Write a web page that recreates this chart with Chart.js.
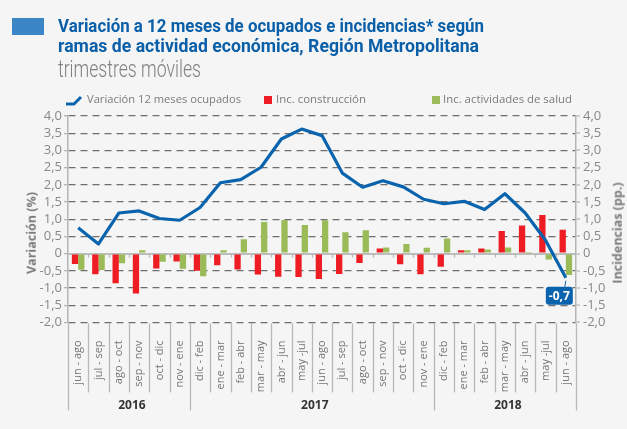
<!DOCTYPE html>
<html lang="es">
<head>
<meta charset="UTF-8">
<title>Variación a 12 meses de ocupados e incidencias</title>
<script src="https://cdn.jsdelivr.net/npm/chart.js"></script>
<style>
  html, body { margin: 0; padding: 0; }
  body { width: 627px; height: 429px; background: #f5f5f5; position: relative; overflow: hidden; font-family: 'Open Sans', sans-serif; }
  #grafico { position: absolute; left: 0; top: 0; }
  .marca { position: absolute; left: 12px; top: 18px; width: 32px; height: 17px; background: #3a86c7; }
  .titulo { position: absolute; left: 58px; font-family: Roboto, sans-serif; font-weight: 700; font-size: 19px; line-height: 1; color: #0a5fa9; white-space: nowrap; transform-origin: left top; }
  .subtitulo { position: absolute; left: 58px; top: 58px; font-family: Roboto, sans-serif; font-weight: 300; font-size: 23px; line-height: 1; color: #808080; white-space: nowrap; transform-origin: left top; }
  .leyenda { position: absolute; top: 93px; font-size: 11.5px; line-height: 1; color: #7b7b7b; white-space: nowrap; transform-origin: left top; }
  .cuadro { position: absolute; top: 96px; width: 8px; height: 8px; }
  .eje { position: absolute; font-weight: 700; font-size: 12.5px; line-height: 1; color: #7a7a7a; white-space: nowrap; transform: translate(-50%, -50%) rotate(-90deg); }
</style>
</head>
<body>
<canvas id="grafico" width="627" height="429"></canvas>

<div class="marca"></div>
<div class="titulo" style="top:16px" data-ancho="426">Variación a 12 meses de ocupados e incidencias* según</div>
<div class="titulo" style="top:36px" data-ancho="421">ramas de actividad económica, Región Metropolitana</div>
<div class="subtitulo" data-ancho="143">trimestres móviles</div>

<svg style="position:absolute;left:64px;top:94px" width="20" height="12">
  <polyline points="2,10 10,10 17,3" fill="none" stroke="#0a64ad" stroke-width="3" stroke-linejoin="round"/>
</svg>
<div class="leyenda" style="left:87px" data-ancho="154">Variación 12 meses ocupados</div>
<div class="cuadro" style="left:264px;background:#ee1d23"></div>
<div class="leyenda" style="left:276px" data-ancho="90">Inc. construcción</div>
<div class="cuadro" style="left:432px;background:#9bbb59"></div>
<div class="leyenda" style="left:443px" data-ancho="129">Inc. actividades de salud</div>

<div class="eje" style="left:32px;top:233px">Variación (%)</div>
<div class="eje" style="left:618px;top:233px">Incidencias (pp.)</div>

<script>
// trimestres moviles, de jun-ago 2016 a jun-ago 2018
const categorias = [
  'jun - ago', 'jul - sep', 'ago - oct', 'sep - nov', 'oct - dic', 'nov - ene',
  'dic - feb', 'ene - mar', 'feb - abr', 'mar - may', 'abr - jun', 'may -jul',
  'jun - ago', 'jul - sep', 'ago - oct', 'sep - nov', 'oct - dic', 'nov - ene',
  'dic - feb', 'ene - mar', 'feb - abr', 'mar - may', 'abr - jun', 'may -jul', 'jun - ago'
];
const anios = ['2016', '2017', '2018'];
const trimestresPorAnio = [6, 12, 7];

// variacion 12 meses ocupados (%)
const ocupados = [0.75, 0.28, 1.18, 1.24, 1.02, 0.97, 1.34, 2.06, 2.15, 2.51, 3.33, 3.62,
  3.43, 2.34, 1.93, 2.12, 1.94, 1.58, 1.45, 1.52, 1.28, 1.74, 1.18, 0.39, -0.7];
// incidencias (pp.)
const construccion = [-0.3, -0.6, -0.86, -1.16, -0.43, -0.23, -0.5, -0.34, -0.46, -0.61, -0.67, -0.68,
  -0.74, -0.59, -0.27, 0.15, -0.31, -0.6, -0.38, 0.1, 0.15, 0.66, 0.82, 1.12, 0.69];
const salud = [-0.47, -0.48, -0.28, 0.1, -0.24, -0.44, -0.66, 0.1, 0.42, 0.92, 0.98, 0.83,
  0.97, 0.62, 0.68, 0.18, 0.28, 0.17, 0.44, 0.1, 0.12, 0.18, 0.01, -0.17, -0.62];

const ejeMin = -2, ejeMax = 4, ejePaso = 0.5;

function formato(v) {
  return v === 0 ? '0' : v.toFixed(1).replace('.', ',');
}

// ajusta el ancho de los textos html
function ajustarTextos() {
  document.querySelectorAll('[data-ancho]').forEach(function (el) {
    el.style.transform = 'none';
    const w = el.getBoundingClientRect().width;
    el.style.transform = 'scaleX(' + (el.dataset.ancho / w) + ')';
  });
}
ajustarTextos();
if (document.fonts) document.fonts.ready.then(ajustarTextos);

// separadores del eje x, años y etiqueta del ultimo valor
const ejeInferior = {
  id: 'ejeInferior',
  afterDraw(chart) {
    const { ctx, chartArea: a, scales: { x, y1 } } = chart;
    const paso = x.getPixelForValue(1) - x.getPixelForValue(0);
    const y0 = y1.getPixelForValue(0);
    const limites = [0];
    trimestresPorAnio.forEach(function (n) { limites.push(limites[limites.length - 1] + n); });

    ctx.save();
    ctx.strokeStyle = '#b8b8b8';
    ctx.lineWidth = 1.3;
    for (let i = 0; i <= categorias.length; i++) {
      const xi = Math.round(x.getPixelForValue(i) - paso / 2) + 0.5;
      const largo = limites.includes(i) ? 88 : 70;
      ctx.beginPath();
      ctx.moveTo(xi, a.bottom + 1);
      ctx.lineTo(xi, a.bottom + largo);
      ctx.stroke();
      if (i > 0 && i < categorias.length) {
        ctx.beginPath();
        ctx.moveTo(xi, y0);
        ctx.lineTo(xi, y0 + 4);
        ctx.stroke();
      }
    }
    ctx.fillStyle = '#333';
    ctx.font = 'bold 12px "Open Sans"';
    ctx.textAlign = 'center';
    ctx.textBaseline = 'middle';
    for (let k = 0; k < anios.length; k++) {
      const xa = x.getPixelForValue(limites[k]) - paso / 2;
      const xb = x.getPixelForValue(limites[k + 1] - 1) + paso / 2;
      ctx.fillText(anios[k], (xa + xb) / 2 + 3, a.bottom + 83);
    }

    // etiqueta del ultimo dato de ocupados
    const meta = chart.getDatasetMeta(0);
    const ult = meta.data[meta.data.length - 1];
    ctx.strokeStyle = '#0a64ad';
    ctx.lineWidth = 1;
    ctx.beginPath();
    ctx.moveTo(ult.x, ult.y + 3);
    ctx.lineTo(ult.x - 1, ult.y + 9);
    ctx.stroke();
    ctx.fillStyle = '#0a64ad';
    ctx.beginPath();
    ctx.roundRect(ult.x - 20, ult.y + 9, 27, 18, 3);
    ctx.fill();
    ctx.fillStyle = '#fff';
    ctx.font = 'bold 12px "Open Sans"';
    ctx.fillText(formato(ocupados[ocupados.length - 1]), ult.x - 6.5, ult.y + 18.5);
    ctx.restore();
  }
};

const fuenteTicks = { family: 'Open Sans', size: 13 };

new Chart(document.getElementById('grafico'), {
  type: 'bar',
  data: {
    labels: categorias,
    datasets: [
      {
        type: 'line',
        label: 'Variación 12 meses ocupados',
        data: ocupados,
        yAxisID: 'y',
        borderColor: '#0a64ad',
        borderWidth: 3.2,
        pointRadius: 0,
        tension: 0,
        borderJoinStyle: 'round',
        order: 0
      },
      {
        label: 'Inc. construcción',
        data: construccion,
        yAxisID: 'y1',
        backgroundColor: '#ee1d23',
        order: 1
      },
      {
        label: 'Inc. actividades de salud',
        data: salud,
        yAxisID: 'y1',
        backgroundColor: '#9bbb59',
        order: 2
      }
    ]
  },
  options: {
    responsive: false,
    animation: false,
    devicePixelRatio: 1,
    categoryPercentage: 0.62,
    barPercentage: 1,
    layout: { padding: { top: 116, bottom: 36.6, left: 0, right: 0 } },
    plugins: { legend: { display: false }, tooltip: { enabled: false } },
    scales: {
      x: {
        offset: true,
        grid: { display: false },
        border: { display: false },
        ticks: { autoSkip: false, minRotation: 90, maxRotation: 90, padding: 10, color: '#777', font: { family: 'Open Sans', size: 11 } },
        afterFit: function (s) { s.height = 70; }
      },
      y: {
        position: 'left',
        min: ejeMin,
        max: ejeMax,
        afterFit: function (s) { s.width = 68; },
        ticks: { stepSize: ejePaso, autoSkip: false, padding: 2, color: '#888', font: fuenteTicks, callback: formato },
        grid: {
          color: function (c) { return c.tick && c.tick.value === 0 ? 'rgba(0,0,0,0)' : '#6e6e6e'; },
          lineWidth: 1.3,
          tickLength: 4,
          tickColor: '#b5b5b5',
          tickWidth: 1.3
        },
        border: { color: '#b5b5b5', width: 1.5, dash: [7, 5] }
      },
      y1: {
        position: 'right',
        min: ejeMin,
        max: ejeMax,
        afterFit: function (s) { s.width = 51; },
        ticks: { stepSize: ejePaso, autoSkip: false, padding: 3, color: '#888', font: fuenteTicks, callback: formato },
        grid: {
          color: function (c) { return c.tick && c.tick.value === 0 ? '#bdbdbd' : 'rgba(0,0,0,0)'; },
          lineWidth: 2,
          tickLength: 4,
          tickColor: '#b5b5b5',
          tickWidth: 1.3
        },
        border: { color: '#b5b5b5', width: 1.5 }
      }
    }
  },
  plugins: [ejeInferior]
});
</script>
</body>
</html>
